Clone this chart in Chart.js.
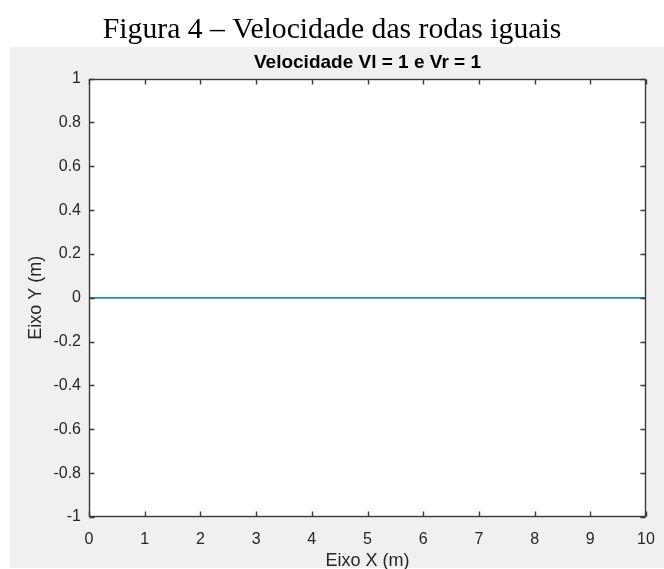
<!DOCTYPE html>
<html>
<head>
<meta charset="utf-8">
<script src="https://cdn.jsdelivr.net/npm/chart.js@4"></script>
<style>
  html, body { margin: 0; padding: 0; background: #fff; }
  #wrap { width: 664px; height: 569px; }
</style>
</head>
<body>
<div id="wrap"><canvas id="myChart" width="664" height="569"></canvas></div>
<script>
const ctx = document.getElementById('myChart').getContext('2d');

// robot position (m), both wheels at the same speed
const posX = [0, 1, 2, 3, 4, 5, 6, 7, 8, 9, 10];
const posY = [0, 0, 0, 0, 0, 0, 0, 0, 0, 0, 0];

// tick labels
const xTicks = [0, 1, 2, 3, 4, 5, 6, 7, 8, 9, 10];
const yTicks = [-1, -0.8, -0.6, -0.4, -0.2, 0, 0.2, 0.4, 0.6, 0.8, 1];

const axisColor = '#262626';
const sans = "'Liberation Sans', Arial, sans-serif";

// figure background, white axes box, inward ticks on every side
const matlabFrame = {
    id: 'matlabFrame',
    beforeDraw(chart) {
        const { ctx, chartArea: a, width, height } = chart;
        ctx.save();
        ctx.fillStyle = '#ffffff';
        ctx.fillRect(0, 0, width, height);
        ctx.fillStyle = '#f0f0f0';
        ctx.fillRect(10, 47, width - 10, height - 48);
        ctx.fillStyle = '#ffffff';
        ctx.fillRect(a.left, a.top, a.right - a.left, a.bottom - a.top);
        ctx.restore();
    },
    afterDatasetsDraw(chart) {
        const { ctx, chartArea: a, scales } = chart;
        const L = Math.round(a.left) + 0.5, R = Math.round(a.right) - 0.5;
        const T = Math.round(a.top) + 0.5, B = Math.round(a.bottom) - 0.5;
        const len = 5;
        ctx.save();
        ctx.strokeStyle = '#3a3a3a';
        ctx.lineWidth = 1.4;
        ctx.beginPath();
        scales.x.ticks.forEach(t => {
            const px = Math.round(scales.x.getPixelForValue(t.value)) + 0.5;
            ctx.moveTo(px, B); ctx.lineTo(px, B - len);
            ctx.moveTo(px, T); ctx.lineTo(px, T + len);
        });
        scales.y.ticks.forEach(t => {
            const py = Math.round(scales.y.getPixelForValue(t.value)) + 0.5;
            ctx.moveTo(L, py); ctx.lineTo(L + len, py);
            ctx.moveTo(R, py); ctx.lineTo(R - len, py);
        });
        ctx.stroke();
        ctx.strokeRect(L, T, R - L, B - T);
        ctx.restore();
    }
};

const data = {
    datasets: [{
        label: 'trajetoria',
        data: posX.map((x, i) => ({ x: x, y: posY[i] })),
        borderColor: '#2a86cc',
        borderWidth: 1.8,
        pointRadius: 0,
        tension: 0
    }]
};

const config = {
    type: 'line',
    data: data,
    options: {
        responsive: false,
        animation: false,
        events: [],
        layout: { padding: { left: 18, right: 18, top: 0, bottom: 0 } },
        plugins: {
            legend: { display: false },
            tooltip: { enabled: false },
            title: {
                display: true,
                text: 'Figura 4 – Velocidade das rodas iguais',
                color: '#000',
                font: { family: "'Liberation Serif', 'Times New Roman', serif", size: 29.7, weight: 'normal', lineHeight: 1.2 },
                padding: { top: 12, bottom: 0 }
            }
        },
        scales: {
            x: {
                type: 'linear',
                min: 0,
                max: 10,
                afterBuildTicks: s => { s.ticks = xTicks.map(v => ({ value: v })); },
                afterFit: s => { s.height = 52; s.paddingLeft = 9; s.paddingRight = 9; },
                grid: { display: false, drawTicks: false },
                border: { display: false },
                ticks: {
                    color: axisColor,
                    font: { family: sans, size: 16 },
                    padding: 13,
                    maxRotation: 0,
                    autoSkip: false,
                    callback: v => String(v)
                },
                title: {
                    display: true,
                    text: 'Eixo X (m)',
                    color: axisColor,
                    font: { family: sans, size: 18 },
                    padding: { top: 0, bottom: -3 }
                }
            },
            // top axis only carries the plot title, centred over the axes box
            top: {
                type: 'linear',
                position: 'top',
                min: 0,
                max: 10,
                afterFit: s => { s.height = 31; },
                grid: { display: false, drawTicks: false },
                border: { display: false },
                ticks: { display: false },
                title: {
                    display: true,
                    text: 'Velocidade Vl = 1 e Vr = 1',
                    color: '#000',
                    font: { family: sans, size: 19, weight: 'bold', lineHeight: 1.2 },
                    padding: { top: 4, bottom: 0 }
                }
            },
            y: {
                type: 'linear',
                min: -1,
                max: 1,
                afterBuildTicks: s => { s.ticks = yTicks.map(v => ({ value: v })); },
                afterFit: s => { s.width = 71; },
                grid: { display: false, drawTicks: false },
                border: { display: false },
                ticks: {
                    color: axisColor,
                    font: { family: sans, size: 16 },
                    padding: 8,
                    autoSkip: false,
                    callback: v => String(v)
                },
                title: {
                    display: true,
                    text: 'Eixo Y (m)',
                    color: axisColor,
                    font: { family: sans, size: 18 },
                    padding: { top: 7, bottom: 0 }
                }
            }
        }
    },
    plugins: [matlabFrame]
};

const myChart = new Chart(ctx, config);
</script>
</body>
</html>
